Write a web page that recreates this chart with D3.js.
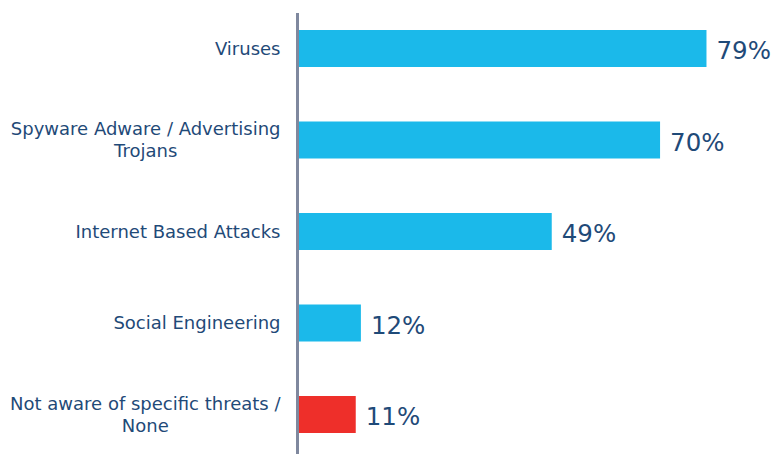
<!DOCTYPE html>
<html>
<head>
<meta charset="utf-8">
<script src="https://cdn.jsdelivr.net/npm/d3@7"></script>
<style>
  html, body { margin: 0; padding: 0; background: #fff; }
  svg { display: block; font-family: "DejaVu Sans", Verdana, sans-serif; }
</style>
</head>
<body>
<svg id="chart" width="772" height="454"></svg>
<script>
// Survey responses: perceived security threats
const categories = [
  ["Viruses"],
  ["Spyware Adware / Advertising", "Trojans"],
  ["Internet Based Attacks"],
  ["Social Engineering"],
  ["Not aware of specific threats /", "None"]
];
const values = [79, 70, 49, 12, 11];
const barColors = ["#1bb9ea", "#1bb9ea", "#1bb9ea", "#1bb9ea", "#ee2f2a"];

const svg = d3.select("#chart");
const textColor = "#1f4a78";

const x = d3.scaleLinear().domain([0, 100]).range([299, 814.8]);
const y = d3.scaleBand()
  .domain(d3.range(categories.length))
  .range([2.75, 460.25])
  .paddingInner(0.5956)
  .paddingOuter(0.2978);

// bars
svg.selectAll("rect.bar")
  .data(values)
  .join("rect")
  .attr("class", "bar")
  .attr("x", x(0))
  .attr("y", (d, i) => y(i))
  .attr("width", d => x(d) - x(0))
  .attr("height", y.bandwidth())
  .attr("fill", (d, i) => barColors[i]);

// value labels
svg.selectAll("text.val")
  .data(values)
  .join("text")
  .attr("class", "val")
  .attr("x", d => x(d) + 10)
  .attr("y", (d, i) => y(i) + y.bandwidth() / 2)
  .attr("dy", "0.44em")
  .attr("font-size", 24.5)
  .attr("fill", textColor)
  .text(d => d + "%");

// category labels: block right-aligned to the axis, lines centred within the block
const labelRight = 280.5;
const lineH = 22;
const cat = svg.selectAll("g.cat")
  .data(categories)
  .join("g")
  .attr("class", "cat")
  .attr("transform", (d, i) => `translate(0,${y(i) + y.bandwidth() / 2})`);

cat.each(function (lines) {
  const g = d3.select(this);
  const t = g.append("text")
    .attr("text-anchor", "middle")
    .attr("font-size", 18)
    .attr("fill", textColor);
  const spans = t.selectAll("tspan")
    .data(lines.map((s, k) => ({ s, k, n: lines.length })))
    .join("tspan")
    .attr("y", d => (d.k - (d.n - 1) / 2) * lineH)
    .attr("dy", "0.36em")
    .text(d => d.s);
  let w = 0;
  spans.each(function () { w = Math.max(w, this.getComputedTextLength()); });
  spans.attr("x", labelRight - w / 2);
});

// vertical category axis
svg.append("line")
  .attr("x1", 297.5).attr("x2", 297.5)
  .attr("y1", 13).attr("y2", 454)
  .attr("stroke", "#7f889e")
  .attr("stroke-width", 3);
</script>
</body>
</html>
